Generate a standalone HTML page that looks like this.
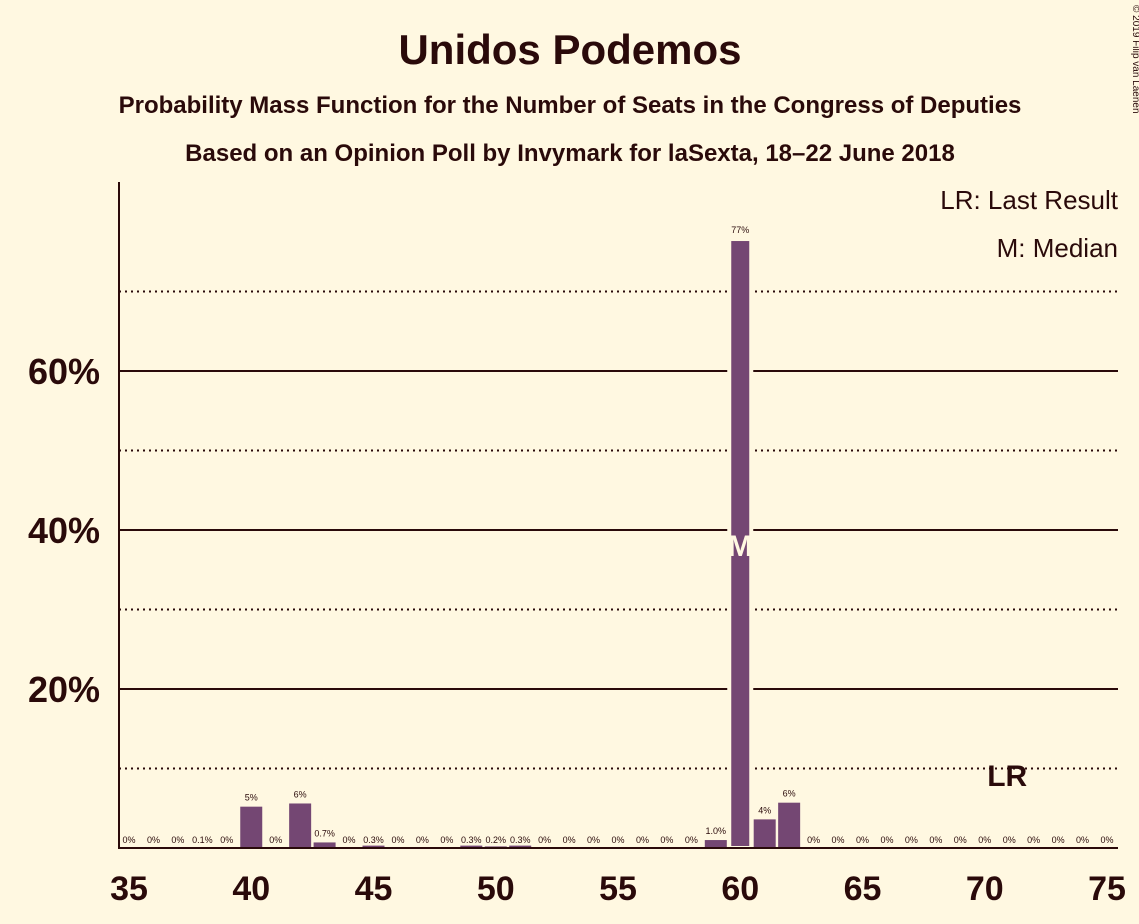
<!DOCTYPE html>
<html><head><meta charset="utf-8"><style>
html,body{margin:0;padding:0;background:#fff8e1;}
svg{display:block;font-family:"Liberation Sans",sans-serif;}
</style></head><body>
<svg id="chart" width="1139" height="924" viewBox="0 0 1139 924">
<rect width="1139" height="924" fill="#fff8e1"/>
<text x="570" y="64" text-anchor="middle" font-size="42" font-weight="bold" fill="#2a0a0a">Unidos Podemos</text>
<text x="570" y="113" text-anchor="middle" font-size="24" font-weight="bold" fill="#2a0a0a">Probability Mass Function for the Number of Seats in the Congress of Deputies</text>
<text x="570" y="161" text-anchor="middle" font-size="24" font-weight="bold" fill="#2a0a0a">Based on an Opinion Poll by Invymark for laSexta, 18–22 June 2018</text>
<text x="1133" y="5" font-size="10" fill="#2a0a0a" transform="rotate(90 1133 5)">© 2019 Filip van Laenen</text>
<g id="grid"></g>
<g id="bars"></g>
<g id="labels"></g>
<line x1="119" y1="182" x2="119" y2="848" stroke="#2a0a0a" stroke-width="2"/>
<line x1="118" y1="848" x2="1118" y2="848" stroke="#2a0a0a" stroke-width="2"/>
<text x="1118" y="209" text-anchor="end" font-size="26" fill="#2a0a0a">LR: Last Result</text>
<text x="1118" y="257" text-anchor="end" font-size="26" fill="#2a0a0a">M: Median</text>
</svg>
<script>
const seats=[35,36,37,38,39,40,41,42,43,44,45,46,47,48,49,50,51,52,53,54,55,56,57,58,59,60,61,62,63,64,65,66,67,68,69,70,71,72,73,74,75];
const probs=[0,0,0,0.1,0,5.2,0,5.6,0.7,0,0.3,0,0,0,0.3,0.2,0.3,0,0,0,0,0,0,0,1.0,76.6,3.6,5.7,0,0,0,0,0,0,0,0,0,0,0,0,0];
const probLabels=["0%","0%","0%","0.1%","0%","5%","0%","6%","0.7%","0%","0.3%","0%","0%","0%","0.3%","0.2%","0.3%","0%","0%","0%","0%","0%","0%","0%","1.0%","77%","4%","6%","0%","0%","0%","0%","0%","0%","0%","0%","0%","0%","0%","0%","0%"];
const yTicks=[20,40,60];
const yDotted=[10,30,50,70];
const xTicks=[35,40,45,50,55,60,65,70,75];
const medianSeat=60;
const lastResultSeat=71;
const NS="http://www.w3.org/2000/svg";
const xs=s=>129+(s-35)*24.45;
const ys=p=>848-p*7.95;
function mk(tag,attrs,parent){const e=document.createElementNS(NS,tag);for(const k in attrs)e.setAttribute(k,attrs[k]);document.getElementById(parent).appendChild(e);return e;}
yDotted.forEach(v=>{
  const l=mk('line',{x1:119,x2:1118,y1:ys(v),y2:ys(v),stroke:'#2a0a0a','stroke-width':2,'stroke-dasharray':'2,4'},'grid');
  
  
});
yTicks.forEach(v=>{
  const l=mk('line',{x1:119,x2:1118,y1:ys(v),y2:ys(v),stroke:'#2a0a0a','stroke-width':2},'grid');
  
  
  const t=mk('text',{x:100,y:ys(v)+13,'text-anchor':'end','font-size':36,'font-weight':'bold',fill:'#2a0a0a'},'grid');
  t.textContent=v+'%';
  
  
});
xTicks.forEach(v=>{
  const t=mk('text',{x:xs(v),y:900,'text-anchor':'middle','font-size':34,'font-weight':'bold',fill:'#2a0a0a'},'labels');
  t.textContent=v;
  
  
});
seats.forEach((s,i)=>{
  const p=probs[i];
  if(p>0){
    const h=p*7.95;
    const r=mk('rect',{x:xs(s)-11,y:848-h,width:22,height:h,fill:'#744773',stroke:p>10?'#fff8e1':'none','stroke-width':p>10?4:0},'bars');
    
    
  }
  const t=mk('text',{x:xs(s),y:(p>=0.5?ys(p)-6:843),'text-anchor':'middle','font-size':9,fill:'#2a0a0a'},'labels');
  t.textContent=probLabels[i];
  
  
});
const m=mk('text',{x:xs(medianSeat),y:556,'text-anchor':'middle','font-size':30,'font-weight':'bold',fill:'#fff8e1'},'labels');
m.textContent='M';


const lr=mk('text',{x:xs(lastResultSeat)-2,y:786,'text-anchor':'middle','font-size':30,'font-weight':'bold',fill:'#2a0a0a'},'labels');
lr.textContent='LR';


</script>
</body></html>
